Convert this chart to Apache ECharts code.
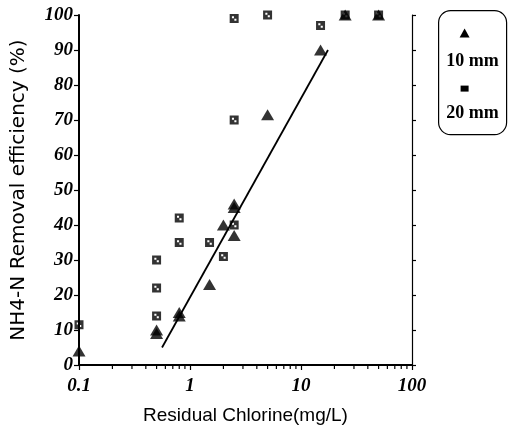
<!DOCTYPE html>
<html><head><meta charset="utf-8">
<script src="https://cdn.jsdelivr.net/npm/echarts@6/dist/echarts.min.js"></script>
<style>html,body{margin:0;padding:0;background:#fff}#c{width:508px;height:426px}</style>
</head><body><div id="c"></div>
<script>
var tri10X = [0.1, 0.5, 0.5, 0.8, 0.8, 1.5, 2, 2.5, 2.5, 2.5, 5, 15, 25, 50];
var tri10Y = [4, 10, 9, 15, 14, 23, 40, 46, 45, 37, 71.5, 90, 100, 100];
var sq20X = [0.1, 0.5, 0.5, 0.5, 0.8, 0.8, 1.5, 2, 2.5, 2.5, 2.5, 5, 15, 25, 50];
var sq20Y = [11.5, 30, 22, 14, 42, 35, 35, 31, 40, 70, 99, 100, 97, 100, 100];
var fitX = [0.56, 17.5];
var fitY = [5, 90];
var xTickLabels = ['0.1', '1', '10', '100'];
var minorX = [0.2,0.3,0.4,0.5,0.6,0.7,0.8,0.9,2,3,4,5,6,7,8,9,20,30,40,50,60,70,80,90];
var legendNames = ['10 mm', '20 mm'];

function zip(a, b) { return a.map(function (v, i) { return [v, b[i]]; }); }
var sqPath = 'path://M0,0H10V10H0Z M2.5,2.5V4.8H4.8V2.5Z M5.2,5.2V7.5H7.5V5.2Z';
var serifLbl = { fontFamily: 'Liberation Serif', fontWeight: 'bold', fontStyle: 'italic', fontSize: 19, color: '#000' };

var chart = echarts.init(document.getElementById('c'), null, { renderer: 'canvas' });
chart.setOption({
  backgroundColor: '#fff',
  animation: false,
  grid: { left: 79, right: 96, top: 15, bottom: 61, containLabel: false, outerBoundsMode: 'none' },
  xAxis: [{
    type: 'log', logBase: 10, min: 0.1, max: 100,
    axisLine: { lineStyle: { color: '#000', width: 1.5 } },
    axisTick: { show: true, inside: false, length: 5, lineStyle: { color: '#000', width: 1.2 } },
    splitLine: { show: false },
    axisLabel: Object.assign({ margin: 12, formatter: function (v) {
      var i = Math.round(Math.log10(v)) + 1; return xTickLabels[i] || ''; } }, serifLbl),
    name: 'Residual Chlorine(mg/L)', nameLocation: 'middle', nameGap: 41,
    nameTextStyle: { fontFamily: 'Liberation Sans', fontSize: 19, color: '#000' }
  }, {
    type: 'log', logBase: 10, min: 0.1, max: 100, position: 'top',
    axisLine: { lineStyle: { color: '#000', width: 2 } },
    axisTick: { show: false }, axisLabel: { show: false }, splitLine: { show: false }
  }],
  yAxis: [{
    type: 'value', min: 0, max: 100, interval: 10,
    axisLine: { show: true, lineStyle: { color: '#000', width: 2 } },
    axisTick: { show: true, length: 5, lineStyle: { color: '#000', width: 1.2 } },
    splitLine: { show: false },
    axisLabel: Object.assign({ margin: 6 }, serifLbl),
    name: 'NH4-N Removal efficiency (%)', nameLocation: 'middle', nameGap: 50,
    nameTextStyle: { fontFamily: 'DejaVu Sans', fontSize: 20, color: '#000' }
  }, {
    type: 'value', min: 0, max: 100, interval: 10, position: 'right',
    axisLine: { show: true, lineStyle: { color: '#000', width: 1.2 } },
    axisTick: { show: true, length: 4, lineStyle: { color: '#000', width: 1.2 } },
    axisLabel: { show: false }, splitLine: { show: false }
  }],
  series: [{
    name: 'minor', type: 'custom', silent: true, xAxisIndex: 0, yAxisIndex: 0,
    data: minorX.map(function (v) { return [v, 0]; }),
    renderItem: function (params, api) {
      var p = api.coord([api.value(0), 0]);
      return { type: 'line', shape: { x1: p[0], y1: p[1], x2: p[0], y2: p[1] + 4 },
        style: { stroke: '#000', lineWidth: 1.2 } };
    }, z: 1
  }, {
    name: legendNames[1], type: 'scatter', data: zip(sq20X, sq20Y),
    symbol: sqPath, symbolSize: 9, itemStyle: { color: '#000' }, z: 3
  }, {
    name: legendNames[0], type: 'scatter', data: zip(tri10X, tri10Y),
    symbol: 'triangle', symbolSize: [13, 11], itemStyle: { color: '#000' }, z: 4
  }, {
    name: 'fit', type: 'line', data: zip(fitX, fitY), symbol: 'none',
    lineStyle: { color: '#000', width: 1.8 }, z: 5
  }],
  graphic: [{
    type: 'group', left: 438, top: 10,
    children: [
      { type: 'rect', shape: { x: 0, y: 0, width: 68, height: 124, r: 12 },
        style: { fill: '#fff', stroke: '#000', lineWidth: 1.2 } },
      { type: 'polygon', shape: { points: [[26, 18], [21, 27], [31, 27]] }, style: { fill: '#000' } },
      { type: 'text', style: { text: legendNames[0], x: 34, y: 51, align: 'center', verticalAlign: 'middle',
        font: 'bold 18px "Liberation Serif"', fill: '#000' } },
      { type: 'rect', shape: { x: 22, y: 75, width: 8, height: 6 }, style: { fill: '#000' } },
      { type: 'text', style: { text: legendNames[1], x: 34, y: 103, align: 'center', verticalAlign: 'middle',
        font: 'bold 18px "Liberation Serif"', fill: '#000' } }
    ]
  }]
});
</script></body></html>
